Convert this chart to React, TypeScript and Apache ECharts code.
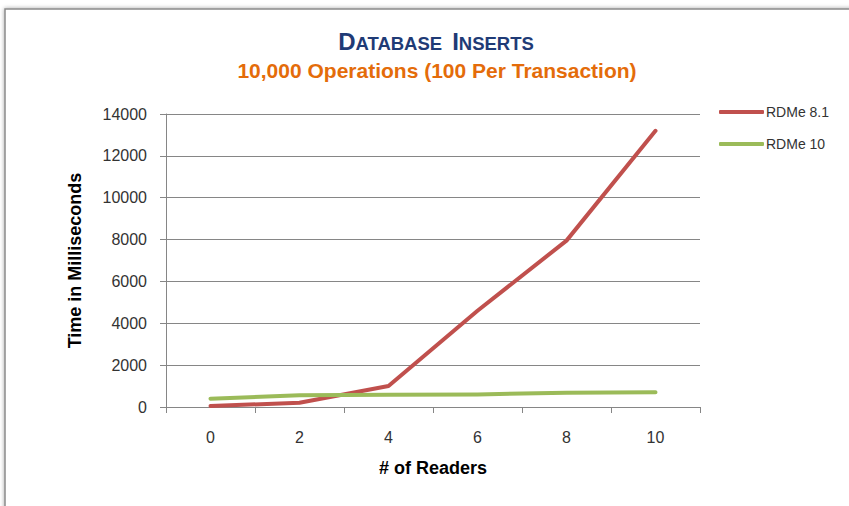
import React, { useEffect, useRef } from "react";
import * as echarts from "echarts";

const categories = ["0", "2", "4", "6", "8", "10"];
const rdme81 = [50, 200, 1000, 4600, 7950, 13200];
const rdme10 = [400, 560, 590, 600, 680, 700];
const seriesNames = ["RDMe 8.1", "RDMe 10"];

export default function App() {
  const ref = useRef<HTMLDivElement>(null);
  useEffect(() => {
    document.body.style.margin = "0";
    const chart = echarts.init(ref.current!, null, { renderer: "svg" });
    const ff = "Liberation Sans, Arial, sans-serif";
    const tickFont = { fontFamily: ff, fontSize: 16, color: "#333" };
    chart.setOption({
      animation: false,
      backgroundColor: "#fff",
      graphic: [
        {
          type: "rect",
          shape: { x: 5, y: 9, width: 900, height: 600 },
          style: { fill: "#fff", stroke: "#8a8a8a", lineWidth: 1.5, shadowBlur: 4, shadowColor: "rgba(0,0,0,0.35)", shadowOffsetX: 0, shadowOffsetY: 0 },
          z: -10,
          silent: true,
        },
      ],
      title: [
        {
          text: "{b|D}{s|ATABASE}  {b|I}{s|NSERTS}",
          left: 431,
          top: 24,
          textAlign: "center",
          textStyle: {
            rich: {
              b: { fontFamily: ff, fontWeight: "bold", fontSize: 24, color: "#1F3B76" },
              s: { fontFamily: ff, fontWeight: "bold", fontSize: 18.5, color: "#1F3B76", verticalAlign: "bottom" },
            },
          },
        },
        {
          text: "10,000 Operations (100 Per Transaction)",
          left: 432,
          top: 55,
          textAlign: "center",
          textStyle: { fontFamily: ff, fontWeight: "bold", fontSize: 21, color: "#E46C0A" },
        },
      ],
      legend: {
        orient: "vertical",
        left: 719,
        top: 105,
        padding: 0,
        itemWidth: 45,
        itemHeight: 4,
        itemGap: 18,
        icon: "roundRect",
        data: seriesNames,
        textStyle: { fontFamily: ff, fontSize: 14, color: "#333", padding: [0, 0, 0, -3] },
      },
      grid: { left: 166, top: 114, right: 149, bottom: 99, containLabel: false },
      xAxis: {
        type: "category",
        data: categories,
        boundaryGap: true,
        name: "# of Readers",
        nameLocation: "middle",
        nameGap: 52,
        nameTextStyle: { fontFamily: ff, fontWeight: "bold", fontSize: 18, color: "#000" },
        axisLine: { show: true, lineStyle: { color: "#868686", width: 1 } },
        axisTick: { show: true, alignWithLabel: false, length: 6, lineStyle: { color: "#868686" } },
        axisLabel: { ...tickFont, margin: 22 },
        splitLine: { show: false },
      },
      yAxis: {
        type: "value",
        min: 0,
        max: 14000,
        interval: 2000,
        name: "Time in Milliseconds",
        nameLocation: "middle",
        nameGap: 82,
        nameRotate: 90,
        nameTextStyle: { fontFamily: ff, fontWeight: "bold", fontSize: 18, color: "#000" },
        axisLine: { show: true, lineStyle: { color: "#868686", width: 1 } },
        axisTick: { show: true, length: 6, lineStyle: { color: "#868686" } },
        axisLabel: { ...tickFont, margin: 19, formatter: (v: number) => String(v) },
        splitLine: { show: true, lineStyle: { color: "#868686", width: 1 } },
      },
      series: [
        {
          name: seriesNames[0],
          type: "line",
          data: rdme81,
          symbol: "none",
          lineStyle: { color: "#C0504D", width: 4, cap: "round", join: "round" },
          itemStyle: { color: "#C0504D" },
        },
        {
          name: seriesNames[1],
          type: "line",
          data: rdme10,
          symbol: "none",
          lineStyle: { color: "#9BBB59", width: 4, cap: "round", join: "round" },
          itemStyle: { color: "#9BBB59" },
        },
      ],
    });
    return () => chart.dispose();
  }, []);
  return <div ref={ref} style={{ position: "absolute", left: 0, top: 0, width: 849, height: 506 }} />;
}
